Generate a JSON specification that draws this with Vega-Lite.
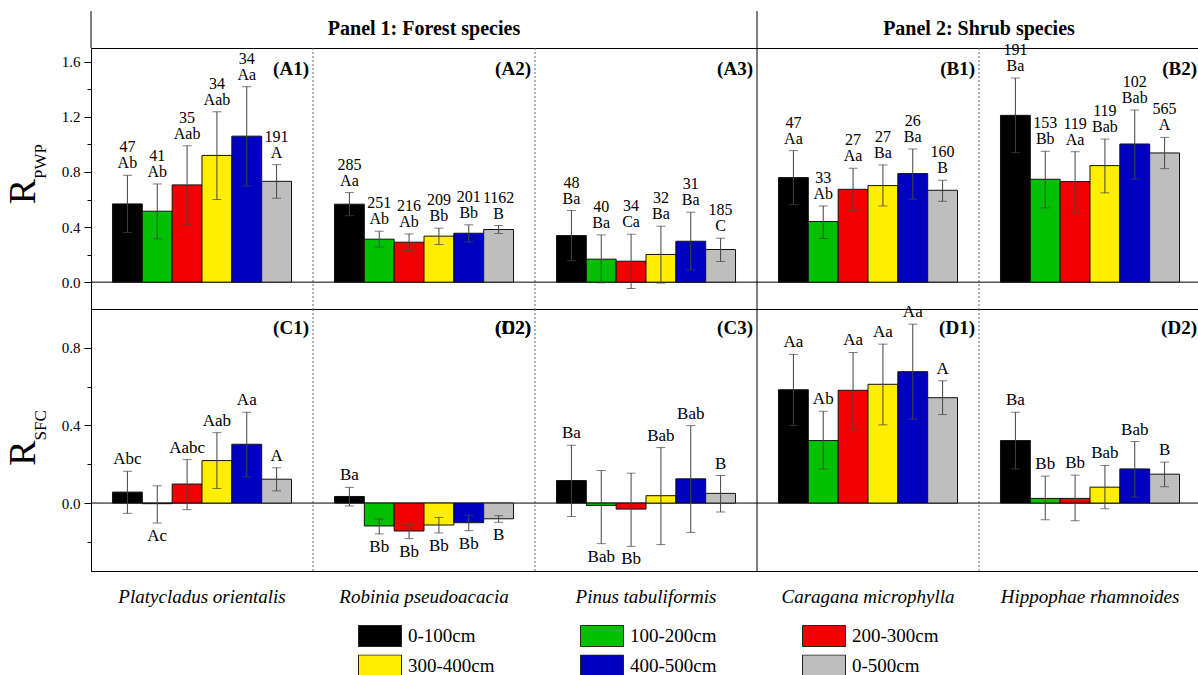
{
"$schema": "https://vega.github.io/schema/vega-lite/v6.json",
"padding": {"left": 3, "top": 10, "right": 0, "bottom": 0},
"background": "white",
"spacing": 0,
"bounds": "flush",
"config": {
  "font": "Liberation Serif",
  "view": {"stroke": "black", "strokeWidth": 1},
  "axis": {"labelFont": "Liberation Serif", "titleFont": "Liberation Serif", "labelColor": "black", "domainColor": "black", "tickColor": "black", "titleColor": "black", "labelFontSize": 15, "grid": false},
  "text": {"color": "black", "font": "Liberation Serif"},
  "legend": {"labelColor": "black", "labelFont": "Liberation Serif"}
},
"datasets": {
  "species": [{"sp":"Platycladus orientalis"},{"sp":"Robinia pseudoacacia"},{"sp":"Pinus tabuliformis"},{"sp":"Caragana microphylla"},{"sp":"Hippophae rhamnoides"}],
  "pwp": [
    {"sp":"Platycladus orientalis","d":"0-100cm","m":0.568,"lo":0.36,"hi":0.776,"lab":"47\nAb"},
    {"sp":"Platycladus orientalis","d":"100-200cm","m":0.515,"lo":0.314,"hi":0.713,"lab":"41\nAb"},
    {"sp":"Platycladus orientalis","d":"200-300cm","m":0.706,"lo":0.418,"hi":0.99,"lab":"35\nAab"},
    {"sp":"Platycladus orientalis","d":"300-400cm","m":0.92,"lo":0.6,"hi":1.237,"lab":"34\nAab"},
    {"sp":"Platycladus orientalis","d":"400-500cm","m":1.06,"lo":0.7,"hi":1.419,"lab":"34\nAa"},
    {"sp":"Platycladus orientalis","d":"0-500cm","m":0.732,"lo":0.609,"hi":0.853,"lab":"191\nA"},
    {"sp":"Robinia pseudoacacia","d":"0-100cm","m":0.566,"lo":0.482,"hi":0.65,"lab":"285\nAa"},
    {"sp":"Robinia pseudoacacia","d":"100-200cm","m":0.312,"lo":0.254,"hi":0.37,"lab":"251\nAb"},
    {"sp":"Robinia pseudoacacia","d":"200-300cm","m":0.29,"lo":0.23,"hi":0.35,"lab":"216\nAb"},
    {"sp":"Robinia pseudoacacia","d":"300-400cm","m":0.334,"lo":0.273,"hi":0.392,"lab":"209\nBb"},
    {"sp":"Robinia pseudoacacia","d":"400-500cm","m":0.355,"lo":0.292,"hi":0.416,"lab":"201\nBb"},
    {"sp":"Robinia pseudoacacia","d":"0-500cm","m":0.382,"lo":0.353,"hi":0.411,"lab":"1162\nB"},
    {"sp":"Pinus tabuliformis","d":"0-100cm","m":0.338,"lo":0.156,"hi":0.52,"lab":"48\nBa"},
    {"sp":"Pinus tabuliformis","d":"100-200cm","m":0.167,"lo":-0.005,"hi":0.343,"lab":"40\nBa"},
    {"sp":"Pinus tabuliformis","d":"200-300cm","m":0.152,"lo":-0.046,"hi":0.348,"lab":"34\nCa"},
    {"sp":"Pinus tabuliformis","d":"300-400cm","m":0.201,"lo":-0.007,"hi":0.406,"lab":"32\nBa"},
    {"sp":"Pinus tabuliformis","d":"400-500cm","m":0.297,"lo":0.089,"hi":0.508,"lab":"31\nBa"},
    {"sp":"Pinus tabuliformis","d":"0-500cm","m":0.237,"lo":0.15,"hi":0.319,"lab":"185\nC"},
    {"sp":"Caragana microphylla","d":"0-100cm","m":0.759,"lo":0.563,"hi":0.955,"lab":"47\nAa"},
    {"sp":"Caragana microphylla","d":"100-200cm","m":0.44,"lo":0.317,"hi":0.553,"lab":"33\nAb"},
    {"sp":"Caragana microphylla","d":"200-300cm","m":0.674,"lo":0.52,"hi":0.827,"lab":"27\nAa"},
    {"sp":"Caragana microphylla","d":"300-400cm","m":0.701,"lo":0.553,"hi":0.851,"lab":"27\nBa"},
    {"sp":"Caragana microphylla","d":"400-500cm","m":0.788,"lo":0.602,"hi":0.967,"lab":"26\nBa"},
    {"sp":"Caragana microphylla","d":"0-500cm","m":0.667,"lo":0.587,"hi":0.74,"lab":"160\nB"},
    {"sp":"Hippophae rhamnoides","d":"0-100cm","m":1.211,"lo":0.94,"hi":1.482,"lab":"191\nBa"},
    {"sp":"Hippophae rhamnoides","d":"100-200cm","m":0.747,"lo":0.539,"hi":0.95,"lab":"153\nBb"},
    {"sp":"Hippophae rhamnoides","d":"200-300cm","m":0.73,"lo":0.505,"hi":0.947,"lab":"119\nAa"},
    {"sp":"Hippophae rhamnoides","d":"300-400cm","m":0.846,"lo":0.648,"hi":1.039,"lab":"119\nBab"},
    {"sp":"Hippophae rhamnoides","d":"400-500cm","m":1.003,"lo":0.749,"hi":1.25,"lab":"102\nBab"},
    {"sp":"Hippophae rhamnoides","d":"0-500cm","m":0.938,"lo":0.824,"hi":1.051,"lab":"565\nA"}
  ],
  "sfc": [
    {"sp":"Platycladus orientalis","d":"0-100cm","m":0.0565,"lo":-0.053,"hi":0.164,"lab":"Abc"},
    {"sp":"Platycladus orientalis","d":"100-200cm","m":-0.003,"lo":-0.103,"hi":0.089,"lab":"Ac"},
    {"sp":"Platycladus orientalis","d":"200-300cm","m":0.098,"lo":-0.034,"hi":0.224,"lab":"Aabc"},
    {"sp":"Platycladus orientalis","d":"300-400cm","m":0.219,"lo":0.075,"hi":0.363,"lab":"Aab"},
    {"sp":"Platycladus orientalis","d":"400-500cm","m":0.303,"lo":0.135,"hi":0.468,"lab":"Aa"},
    {"sp":"Platycladus orientalis","d":"0-500cm","m":0.123,"lo":0.063,"hi":0.182,"lab":"A"},
    {"sp":"Robinia pseudoacacia","d":"0-100cm","m":0.034,"lo":-0.015,"hi":0.081,"lab":"Ba"},
    {"sp":"Robinia pseudoacacia","d":"100-200cm","m":-0.118,"lo":-0.159,"hi":-0.082,"lab":"Bb"},
    {"sp":"Robinia pseudoacacia","d":"200-300cm","m":-0.144,"lo":-0.183,"hi":-0.11,"lab":"Bb"},
    {"sp":"Robinia pseudoacacia","d":"300-400cm","m":-0.113,"lo":-0.154,"hi":-0.074,"lab":"Bb"},
    {"sp":"Robinia pseudoacacia","d":"400-500cm","m":-0.101,"lo":-0.142,"hi":-0.063,"lab":"Bb"},
    {"sp":"Robinia pseudoacacia","d":"0-500cm","m":-0.081,"lo":-0.099,"hi":-0.065,"lab":"B"},
    {"sp":"Pinus tabuliformis","d":"0-100cm","m":0.116,"lo":-0.069,"hi":0.298,"lab":"Ba"},
    {"sp":"Pinus tabuliformis","d":"100-200cm","m":-0.012,"lo":-0.209,"hi":0.168,"lab":"Bab"},
    {"sp":"Pinus tabuliformis","d":"200-300cm","m":-0.031,"lo":-0.223,"hi":0.154,"lab":"Bb"},
    {"sp":"Pinus tabuliformis","d":"300-400cm","m":0.038,"lo":-0.214,"hi":0.286,"lab":"Bab"},
    {"sp":"Pinus tabuliformis","d":"400-500cm","m":0.125,"lo":-0.151,"hi":0.399,"lab":"Bab"},
    {"sp":"Pinus tabuliformis","d":"0-500cm","m":0.05,"lo":-0.046,"hi":0.142,"lab":"B"},
    {"sp":"Caragana microphylla","d":"0-100cm","m":0.584,"lo":0.4,"hi":0.766,"lab":"Aa"},
    {"sp":"Caragana microphylla","d":"100-200cm","m":0.322,"lo":0.175,"hi":0.473,"lab":"Ab"},
    {"sp":"Caragana microphylla","d":"200-300cm","m":0.581,"lo":0.38,"hi":0.776,"lab":"Aa"},
    {"sp":"Caragana microphylla","d":"300-400cm","m":0.612,"lo":0.403,"hi":0.819,"lab":"Aa"},
    {"sp":"Caragana microphylla","d":"400-500cm","m":0.677,"lo":0.433,"hi":0.922,"lab":"Aa"},
    {"sp":"Caragana microphylla","d":"0-500cm","m":0.543,"lo":0.456,"hi":0.63,"lab":"A"},
    {"sp":"Hippophae rhamnoides","d":"0-100cm","m":0.322,"lo":0.176,"hi":0.468,"lab":"Ba"},
    {"sp":"Hippophae rhamnoides","d":"100-200cm","m":0.024,"lo":-0.086,"hi":0.139,"lab":"Bb"},
    {"sp":"Hippophae rhamnoides","d":"200-300cm","m":0.024,"lo":-0.091,"hi":0.144,"lab":"Bb"},
    {"sp":"Hippophae rhamnoides","d":"300-400cm","m":0.082,"lo":-0.029,"hi":0.194,"lab":"Bab"},
    {"sp":"Hippophae rhamnoides","d":"400-500cm","m":0.176,"lo":0.031,"hi":0.317,"lab":"Bab"},
    {"sp":"Hippophae rhamnoides","d":"0-500cm","m":0.149,"lo":0.084,"hi":0.211,"lab":"B"}
  ]
},
"vconcat": [
{
  "width": 1110, "height": 261,
  "data": {"name": "pwp"},
  "resolve": {"axis": {"y": "independent"}},
  "layer": [
    {"data": {"values": [{"sp":"Robinia pseudoacacia"},{"sp":"Pinus tabuliformis"},{"sp":"Hippophae rhamnoides"}]},
     "mark": {"type": "rule", "color": "#666", "strokeDash": [2,2], "strokeWidth": 1},
     "encoding": {"x": {"field": "sp", "type": "nominal", "sort": null, "bandPosition": 0,
        "scale": {"domain": ["Platycladus orientalis","Robinia pseudoacacia","Pinus tabuliformis","Caragana microphylla","Hippophae rhamnoides"], "paddingInner": 0, "paddingOuter": 0}, "axis": null}}},
    {"data": {"values": [{"sp":"Caragana microphylla"}]},
     "mark": {"type": "rule", "color": "black", "strokeWidth": 1},
     "encoding": {"x": {"field": "sp", "type": "nominal", "sort": null, "bandPosition": 0,
        "scale": {"domain": ["Platycladus orientalis","Robinia pseudoacacia","Pinus tabuliformis","Caragana microphylla","Hippophae rhamnoides"], "paddingInner": 0, "paddingOuter": 0}, "axis": null}}},
    {"data": {"values": [{"sp":"Platycladus orientalis"},{"sp":"Caragana microphylla"}]},
     "mark": {"type": "rule", "color": "black", "strokeWidth": 1},
     "encoding": {"x": {"field": "sp", "type": "nominal", "sort": null, "bandPosition": 0,
        "scale": {"domain": ["Platycladus orientalis","Robinia pseudoacacia","Pinus tabuliformis","Caragana microphylla","Hippophae rhamnoides"], "paddingInner": 0, "paddingOuter": 0}, "axis": null},
        "y": {"datum": 1.7, "type": "quantitative", "scale": {"domain": [-0.195, 1.7], "nice": false, "zero": false}, "axis": null},
        "y2": {"datum": 1.968}}},
    {"data": {"values": [{"sp":"Robinia pseudoacacia","t":"Panel 1: Forest species"}]},
     "mark": {"type": "text", "align": "center", "baseline": "middle", "fontSize": 20, "fontWeight": "bold", "color": "black"},
     "encoding": {"x": {"field": "sp", "type": "nominal", "sort": null, "bandPosition": 0.5,
        "scale": {"domain": ["Platycladus orientalis","Robinia pseudoacacia","Pinus tabuliformis","Caragana microphylla","Hippophae rhamnoides"], "paddingInner": 0, "paddingOuter": 0}, "axis": null},
        "y": {"datum": 1.84, "type": "quantitative", "scale": {"domain": [-0.195, 1.7], "nice": false, "zero": false}, "axis": null},
        "text": {"field": "t"}}},
    {"data": {"values": [{"sp":"Hippophae rhamnoides","t":"Panel 2: Shrub species"}]},
     "mark": {"type": "text", "align": "center", "baseline": "middle", "fontSize": 20, "fontWeight": "bold", "color": "black"},
     "encoding": {"x": {"field": "sp", "type": "nominal", "sort": null, "bandPosition": 0,
        "scale": {"domain": ["Platycladus orientalis","Robinia pseudoacacia","Pinus tabuliformis","Caragana microphylla","Hippophae rhamnoides"], "paddingInner": 0, "paddingOuter": 0}, "axis": null},
        "y": {"datum": 1.84, "type": "quantitative", "scale": {"domain": [-0.195, 1.7], "nice": false, "zero": false}, "axis": null},
        "text": {"field": "t"}}},
    {"data": {"values": [{}]},
     "mark": {"type": "rule", "color": "black", "strokeWidth": 1},
     "encoding": {"y": {"datum": 0, "type": "quantitative", "scale": {"domain": [-0.195, 1.7], "nice": false, "zero": false},
        "axis": {"orient": "left", "labels": false, "ticks": false, "domain": false, "title": "PWP", "titleFontSize": 17, "titleFontWeight": "normal", "titleAngle": -90, "titleX": -46, "titleAlign": "left", "titleBaseline": "alphabetic"}}}},
    {"mark": {"type": "bar", "stroke": "#111", "strokeWidth": 1},
     "encoding": {
       "x": {"field": "sp", "type": "nominal", "sort": null, "scale": {"domain": ["Platycladus orientalis","Robinia pseudoacacia","Pinus tabuliformis","Caragana microphylla","Hippophae rhamnoides"], "paddingInner": 0, "paddingOuter": 0}, "axis": null},
       "xOffset": {"field": "d", "type": "nominal", "sort": null, "scale": {"domain": ["0-100cm","100-200cm","200-300cm","300-400cm","400-500cm","0-500cm"], "paddingInner": 0, "paddingOuter": 0.72}},
       "y": {"field": "m", "type": "quantitative", "scale": {"domain": [-0.195, 1.7], "nice": false, "zero": false},
         "axis": {"orient": "left", "values": [0,0.2,0.4,0.6,0.8,1.0,1.2,1.4,1.6], "labelExpr": "abs(round(datum.value*10)) % 4 == 0 ? format(datum.value, '.1f') : ''",
           "tickSize": {"condition": {"test": "abs(round(datum.value*10)) % 4 == 0", "value": 7}, "value": 4},
           "labelPadding": 4, "labelFontSize": 15, "labelFont": "Liberation Serif", "title": null}},
       "color": {"field": "d", "type": "nominal", "sort": null,
         "scale": {"domain": ["0-100cm","100-200cm","200-300cm","300-400cm","400-500cm","0-500cm"], "range": ["#000000","#00c000","#f00000","#ffee00","#0000c0","#bebebe"]},
         "legend": {"orient": "none", "legendX": 267, "legendY": 577, "columns": 3, "direction": "horizontal", "title": null, "padding": 0,
           "symbolType": "M-1,-0.49H1V0.49H-1Z", "symbolSize": 1849, "symbolStrokeColor": "#222", "symbolStrokeWidth": 1, "symbolOpacity": 1, "clipHeight": 22,
           "labelFont": "Liberation Serif", "labelFontSize": 19, "labelOffset": 6, "columnPadding": 85, "rowPadding": 7.5, "gridAlign": "all"}}}},
    {"mark": {"type": "rule", "color": "#444", "strokeWidth": 1},
     "encoding": {
       "x": {"field": "sp", "type": "nominal", "sort": null, "scale": {"domain": ["Platycladus orientalis","Robinia pseudoacacia","Pinus tabuliformis","Caragana microphylla","Hippophae rhamnoides"], "paddingInner": 0, "paddingOuter": 0}, "axis": null},
       "xOffset": {"field": "d", "type": "nominal", "sort": null, "scale": {"domain": ["0-100cm","100-200cm","200-300cm","300-400cm","400-500cm","0-500cm"], "paddingInner": 0, "paddingOuter": 0.72}},
       "y": {"field": "lo", "type": "quantitative", "scale": {"domain": [-0.195, 1.7], "nice": false, "zero": false}, "axis": null},
       "y2": {"field": "hi"}}},
    {"mark": {"type": "tick", "color": "#444", "size": 9, "thickness": 1, "orient": "horizontal"},
     "encoding": {
       "x": {"field": "sp", "type": "nominal", "sort": null, "scale": {"domain": ["Platycladus orientalis","Robinia pseudoacacia","Pinus tabuliformis","Caragana microphylla","Hippophae rhamnoides"], "paddingInner": 0, "paddingOuter": 0}, "axis": null},
       "xOffset": {"field": "d", "type": "nominal", "sort": null, "scale": {"domain": ["0-100cm","100-200cm","200-300cm","300-400cm","400-500cm","0-500cm"], "paddingInner": 0, "paddingOuter": 0.72}},
       "y": {"field": "lo", "type": "quantitative", "scale": {"domain": [-0.195, 1.7], "nice": false, "zero": false}, "axis": null}}},
    {"mark": {"type": "tick", "color": "#444", "size": 9, "thickness": 1, "orient": "horizontal"},
     "encoding": {
       "x": {"field": "sp", "type": "nominal", "sort": null, "scale": {"domain": ["Platycladus orientalis","Robinia pseudoacacia","Pinus tabuliformis","Caragana microphylla","Hippophae rhamnoides"], "paddingInner": 0, "paddingOuter": 0}, "axis": null},
       "xOffset": {"field": "d", "type": "nominal", "sort": null, "scale": {"domain": ["0-100cm","100-200cm","200-300cm","300-400cm","400-500cm","0-500cm"], "paddingInner": 0, "paddingOuter": 0.72}},
       "y": {"field": "hi", "type": "quantitative", "scale": {"domain": [-0.195, 1.7], "nice": false, "zero": false}, "axis": null}}},
    {"mark": {"type": "text", "baseline": "bottom", "dy": -20, "lineBreak": "\n", "fontSize": 16, "lineHeight": 16, "color": "black"},
     "encoding": {
       "x": {"field": "sp", "type": "nominal", "sort": null, "scale": {"domain": ["Platycladus orientalis","Robinia pseudoacacia","Pinus tabuliformis","Caragana microphylla","Hippophae rhamnoides"], "paddingInner": 0, "paddingOuter": 0}, "axis": null},
       "xOffset": {"field": "d", "type": "nominal", "sort": null, "scale": {"domain": ["0-100cm","100-200cm","200-300cm","300-400cm","400-500cm","0-500cm"], "paddingInner": 0, "paddingOuter": 0.72}},
       "y": {"field": "hi", "type": "quantitative", "scale": {"domain": [-0.195, 1.7], "nice": false, "zero": false}, "axis": null},
       "text": {"field": "lab"}}},
    {"data": {"values": [{"sp":"Platycladus orientalis","t":"(A1)"},{"sp":"Robinia pseudoacacia","t":"(A2)"},{"sp":"Pinus tabuliformis","t":"(A3)"},{"sp":"Caragana microphylla","t":"(B1)"},{"sp":"Hippophae rhamnoides","t":"(B2)"}]},
     "mark": {"type": "text", "align": "right", "baseline": "middle", "dx": -4, "fontSize": 19, "fontWeight": "bold", "color": "black"},
     "encoding": {
       "x": {"field": "sp", "type": "nominal", "sort": null, "bandPosition": 1, "scale": {"domain": ["Platycladus orientalis","Robinia pseudoacacia","Pinus tabuliformis","Caragana microphylla","Hippophae rhamnoides"], "paddingInner": 0, "paddingOuter": 0}, "axis": null},
       "y": {"datum": 1.55, "type": "quantitative", "scale": {"domain": [-0.195, 1.7], "nice": false, "zero": false},
         "axis": {"orient": "left", "labels": false, "ticks": false, "domain": false, "title": "R", "titleFontSize": 38, "titleFontWeight": "normal", "titleAngle": -90, "titleX": -57, "titleAlign": "right", "titleBaseline": "alphabetic"}},
       "text": {"field": "t"}}}
  ]
},
{
  "width": 1110, "height": 262,
  "data": {"name": "sfc"},
  "resolve": {"axis": {"y": "independent"}},
  "layer": [
    {"data": {"values": [{"sp":"Robinia pseudoacacia"},{"sp":"Pinus tabuliformis"},{"sp":"Hippophae rhamnoides"}]},
     "mark": {"type": "rule", "color": "#666", "strokeDash": [2,2], "strokeWidth": 1},
     "encoding": {"x": {"field": "sp", "type": "nominal", "sort": null, "bandPosition": 0,
        "scale": {"domain": ["Platycladus orientalis","Robinia pseudoacacia","Pinus tabuliformis","Caragana microphylla","Hippophae rhamnoides"], "paddingInner": 0, "paddingOuter": 0}, "axis": null}}},
    {"data": {"values": [{"sp":"Caragana microphylla"}]},
     "mark": {"type": "rule", "color": "black", "strokeWidth": 1},
     "encoding": {"x": {"field": "sp", "type": "nominal", "sort": null, "bandPosition": 0,
        "scale": {"domain": ["Platycladus orientalis","Robinia pseudoacacia","Pinus tabuliformis","Caragana microphylla","Hippophae rhamnoides"], "paddingInner": 0, "paddingOuter": 0}, "axis": null}}},
    {"data": {"name": "species"},
     "mark": {"type": "text", "align": "center", "baseline": "middle", "fontSize": 19, "fontStyle": "italic", "color": "black"},
     "encoding": {"x": {"field": "sp", "type": "nominal", "sort": null, "bandPosition": 0.5,
        "scale": {"domain": ["Platycladus orientalis","Robinia pseudoacacia","Pinus tabuliformis","Caragana microphylla","Hippophae rhamnoides"], "paddingInner": 0, "paddingOuter": 0}, "axis": null},
        "y": {"datum": -0.484, "type": "quantitative", "scale": {"domain": [-0.35, 1.0], "nice": false, "zero": false}, "axis": null},
        "text": {"field": "sp"}}},
    {"data": {"values": [{}]},
     "mark": {"type": "rule", "color": "black", "strokeWidth": 1},
     "encoding": {"y": {"datum": 0, "type": "quantitative", "scale": {"domain": [-0.35, 1.0], "nice": false, "zero": false},
        "axis": {"orient": "left", "labels": false, "ticks": false, "domain": false, "title": "SFC", "titleFontSize": 17, "titleFontWeight": "normal", "titleAngle": -90, "titleX": -46, "titleAlign": "left", "titleBaseline": "alphabetic"}}}},
    {"mark": {"type": "bar", "stroke": "#111", "strokeWidth": 1},
     "encoding": {
       "x": {"field": "sp", "type": "nominal", "sort": null, "scale": {"domain": ["Platycladus orientalis","Robinia pseudoacacia","Pinus tabuliformis","Caragana microphylla","Hippophae rhamnoides"], "paddingInner": 0, "paddingOuter": 0}, "axis": null},
       "xOffset": {"field": "d", "type": "nominal", "sort": null, "scale": {"domain": ["0-100cm","100-200cm","200-300cm","300-400cm","400-500cm","0-500cm"], "paddingInner": 0, "paddingOuter": 0.72}},
       "y": {"field": "m", "type": "quantitative", "scale": {"domain": [-0.35, 1.0], "nice": false, "zero": false},
         "axis": {"orient": "left", "values": [-0.2,0,0.2,0.4,0.6,0.8], "labelExpr": "abs(round(datum.value*10)) % 4 == 0 ? format(datum.value, '.1f') : ''",
           "tickSize": {"condition": {"test": "abs(round(datum.value*10)) % 4 == 0", "value": 7}, "value": 4},
           "labelPadding": 4, "labelFontSize": 15, "labelFont": "Liberation Serif", "title": null}},
       "color": {"field": "d", "type": "nominal", "sort": null,
         "scale": {"domain": ["0-100cm","100-200cm","200-300cm","300-400cm","400-500cm","0-500cm"], "range": ["#000000","#00c000","#f00000","#ffee00","#0000c0","#bebebe"]},
         "legend": {"orient": "none", "legendX": 267, "legendY": 577, "columns": 3, "direction": "horizontal", "title": null, "padding": 0,
           "symbolType": "M-1,-0.49H1V0.49H-1Z", "symbolSize": 1849, "symbolStrokeColor": "#222", "symbolStrokeWidth": 1, "symbolOpacity": 1, "clipHeight": 22,
           "labelFont": "Liberation Serif", "labelFontSize": 19, "labelOffset": 6, "columnPadding": 85, "rowPadding": 7.5, "gridAlign": "all"}}}},
    {"mark": {"type": "rule", "color": "#444", "strokeWidth": 1},
     "encoding": {
       "x": {"field": "sp", "type": "nominal", "sort": null, "scale": {"domain": ["Platycladus orientalis","Robinia pseudoacacia","Pinus tabuliformis","Caragana microphylla","Hippophae rhamnoides"], "paddingInner": 0, "paddingOuter": 0}, "axis": null},
       "xOffset": {"field": "d", "type": "nominal", "sort": null, "scale": {"domain": ["0-100cm","100-200cm","200-300cm","300-400cm","400-500cm","0-500cm"], "paddingInner": 0, "paddingOuter": 0.72}},
       "y": {"field": "lo", "type": "quantitative", "scale": {"domain": [-0.35, 1.0], "nice": false, "zero": false}, "axis": null},
       "y2": {"field": "hi"}}},
    {"mark": {"type": "tick", "color": "#444", "size": 9, "thickness": 1, "orient": "horizontal"},
     "encoding": {
       "x": {"field": "sp", "type": "nominal", "sort": null, "scale": {"domain": ["Platycladus orientalis","Robinia pseudoacacia","Pinus tabuliformis","Caragana microphylla","Hippophae rhamnoides"], "paddingInner": 0, "paddingOuter": 0}, "axis": null},
       "xOffset": {"field": "d", "type": "nominal", "sort": null, "scale": {"domain": ["0-100cm","100-200cm","200-300cm","300-400cm","400-500cm","0-500cm"], "paddingInner": 0, "paddingOuter": 0.72}},
       "y": {"field": "lo", "type": "quantitative", "scale": {"domain": [-0.35, 1.0], "nice": false, "zero": false}, "axis": null}}},
    {"mark": {"type": "tick", "color": "#444", "size": 9, "thickness": 1, "orient": "horizontal"},
     "encoding": {
       "x": {"field": "sp", "type": "nominal", "sort": null, "scale": {"domain": ["Platycladus orientalis","Robinia pseudoacacia","Pinus tabuliformis","Caragana microphylla","Hippophae rhamnoides"], "paddingInner": 0, "paddingOuter": 0}, "axis": null},
       "xOffset": {"field": "d", "type": "nominal", "sort": null, "scale": {"domain": ["0-100cm","100-200cm","200-300cm","300-400cm","400-500cm","0-500cm"], "paddingInner": 0, "paddingOuter": 0.72}},
       "y": {"field": "hi", "type": "quantitative", "scale": {"domain": [-0.35, 1.0], "nice": false, "zero": false}, "axis": null}}},
    {"transform": [{"filter": "datum.m >= 0"}],
     "mark": {"type": "text", "baseline": "bottom", "dy": -3, "fontSize": 17, "color": "black"},
     "encoding": {
       "x": {"field": "sp", "type": "nominal", "sort": null, "scale": {"domain": ["Platycladus orientalis","Robinia pseudoacacia","Pinus tabuliformis","Caragana microphylla","Hippophae rhamnoides"], "paddingInner": 0, "paddingOuter": 0}, "axis": null},
       "xOffset": {"field": "d", "type": "nominal", "sort": null, "scale": {"domain": ["0-100cm","100-200cm","200-300cm","300-400cm","400-500cm","0-500cm"], "paddingInner": 0, "paddingOuter": 0.72}},
       "y": {"field": "hi", "type": "quantitative", "scale": {"domain": [-0.35, 1.0], "nice": false, "zero": false}, "axis": null},
       "text": {"field": "lab"}}},
    {"transform": [{"filter": "datum.m < 0"}],
     "mark": {"type": "text", "baseline": "top", "dy": 5, "fontSize": 17, "color": "black"},
     "encoding": {
       "x": {"field": "sp", "type": "nominal", "sort": null, "scale": {"domain": ["Platycladus orientalis","Robinia pseudoacacia","Pinus tabuliformis","Caragana microphylla","Hippophae rhamnoides"], "paddingInner": 0, "paddingOuter": 0}, "axis": null},
       "xOffset": {"field": "d", "type": "nominal", "sort": null, "scale": {"domain": ["0-100cm","100-200cm","200-300cm","300-400cm","400-500cm","0-500cm"], "paddingInner": 0, "paddingOuter": 0.72}},
       "y": {"field": "lo", "type": "quantitative", "scale": {"domain": [-0.35, 1.0], "nice": false, "zero": false}, "axis": null},
       "text": {"field": "lab"}}},
    {"data": {"values": [{"sp":"Platycladus orientalis","t":"(C1)"},{"sp":"Robinia pseudoacacia","t":"(C2)"},{"sp":"Robinia pseudoacacia","t":"(D2)"},{"sp":"Pinus tabuliformis","t":"(C3)"},{"sp":"Caragana microphylla","t":"(D1)"},{"sp":"Hippophae rhamnoides","t":"(D2)"}]},
     "mark": {"type": "text", "align": "right", "baseline": "middle", "dx": -4, "fontSize": 19, "fontWeight": "bold", "color": "black"},
     "encoding": {
       "x": {"field": "sp", "type": "nominal", "sort": null, "bandPosition": 1, "scale": {"domain": ["Platycladus orientalis","Robinia pseudoacacia","Pinus tabuliformis","Caragana microphylla","Hippophae rhamnoides"], "paddingInner": 0, "paddingOuter": 0}, "axis": null},
       "y": {"datum": 0.9, "type": "quantitative", "scale": {"domain": [-0.35, 1.0], "nice": false, "zero": false},
         "axis": {"orient": "left", "labels": false, "ticks": false, "domain": false, "title": "R", "titleFontSize": 38, "titleFontWeight": "normal", "titleAngle": -90, "titleX": -57, "titleAlign": "right", "titleBaseline": "alphabetic"}},
       "text": {"field": "t"}}}
  ]
}
]
}
